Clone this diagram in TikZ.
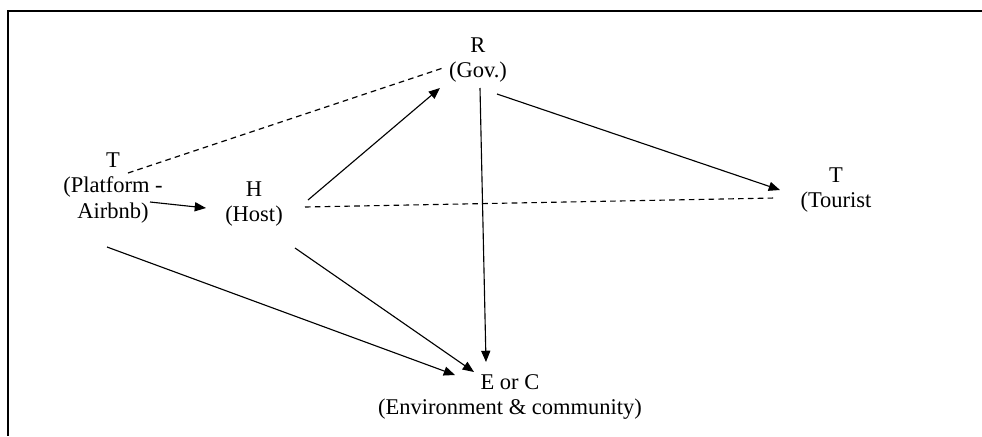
\documentclass[tikz,border=0pt]{standalone}
\usepackage{fontspec}
\setmainfont{Liberation Serif}
\usepackage{tikz}
\usetikzlibrary{arrows.meta, positioning, calc}

\begin{document}
\begin{tikzpicture}[
  x=0.025cm, y=-0.025cm,
  actor/.style={align=center, inner sep=0pt, font=\fontsize{16}{18}\selectfont},
  arrow/.style={-{Triangle[length=8pt, width=6.5pt]}, line width=0.8pt},
  link/.style={dashed, dash pattern=on 4pt off 3pt, line width=0.8pt},
  frame/.style={line width=1.8pt}
]
\useasboundingbox (0,0) rectangle (982,436);
\draw[frame] (982,11) -- (8,11) -- (8,436);

\node[actor] (gov)  at (478,60)  {R\\(Gov.)};
\node[actor] (plat) at (113,188) {T\\(Platform -\\Airbnb)};
\node[actor] (host) at (254,204) {H\\(Host)};
\node[actor] (tour) at (836,190) {T\\(Tourist};
\node[actor] (eoc)  at (510,397) {E or C\\(Environment \& community)};

\draw[link] ($(plat)+(15,-15)$) -- ($(gov)+(-35,8)$);
\draw[arrow] ($(plat)+(37,14)$) -- ($(host)+(-48,4)$);
\draw[arrow] ($(host)+(54,-4)$) -- ($(gov)+(-38,28)$);
\draw[link] ($(host)+(51,3)$) -- ($(tour)+(-61,8)$);
\draw[arrow] ($(gov)+(19,34)$) -- ($(tour)+(-56,0)$);
\draw[arrow] ($(gov)+(2,28)$) -- ($(eoc)+(-24,-35)$);
\draw[arrow] ($(host)+(41,44)$) -- ($(eoc)+(-36,-25)$);
\draw[arrow] ($(plat)+(-6,59)$) -- ($(eoc)+(-55,-22)$);
\end{tikzpicture}
\end{document}
